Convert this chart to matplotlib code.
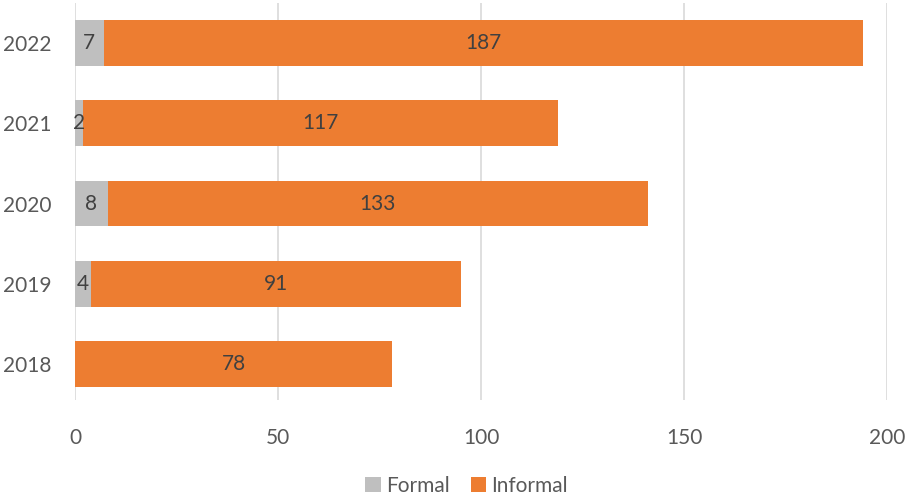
import numpy as np
import matplotlib.pyplot as plt

years = ['2018', '2019', '2020', '2021', '2022']
formal = [0, 4, 8, 2, 7]
informal = [78, 91, 133, 117, 187]

plt.rcParams['font.family'] = ['Lato', 'DejaVu Sans']

fig = plt.figure(figsize=(9.06, 4.97), dpi=100)
ax = fig.add_axes([0.083, 0.195, 0.896, 0.799])

y = np.arange(len(years))
h = 0.57
b1 = ax.barh(y, formal, height=h, color='#bfbfbf', label='Formal')
b2 = ax.barh(y, informal, left=formal, height=h, color='#ed7d31', label='Informal')

# value labels, skip the empty ones
for i in range(len(years)):
    if formal[i] > 0:
        ax.text(formal[i] / 2, y[i], str(formal[i]), ha='center', va='center',
                fontsize=15, color='#404040')
    ax.text(formal[i] + informal[i] / 2, y[i], str(informal[i]), ha='center',
            va='center', fontsize=15, color='#404040')

ax.set_xlim(0, 200)
ax.set_ylim(-0.45, 4.5)
ax.set_xticks([0, 50, 100, 150, 200])
ax.set_yticks(y)
ax.set_yticklabels(years)
ax.tick_params(axis='both', length=0, labelsize=15, labelcolor='#595959')
ax.tick_params(axis='x', pad=20)
ax.tick_params(axis='y', pad=17)
ax.xaxis.grid(True, color='#d9d9d9', linewidth=1.2)
ax.set_axisbelow(True)
for s in ax.spines.values():
    s.set_visible(False)

fig.legend(handles=[b1, b2], loc='lower center', bbox_to_anchor=(0.515, -0.035),
           ncol=2, frameon=False, fontsize=15, handlelength=0.75, handleheight=0.75,
           handletextpad=0.25, columnspacing=1.0, labelcolor='#595959')

fig.savefig('out.png', dpi=100)
